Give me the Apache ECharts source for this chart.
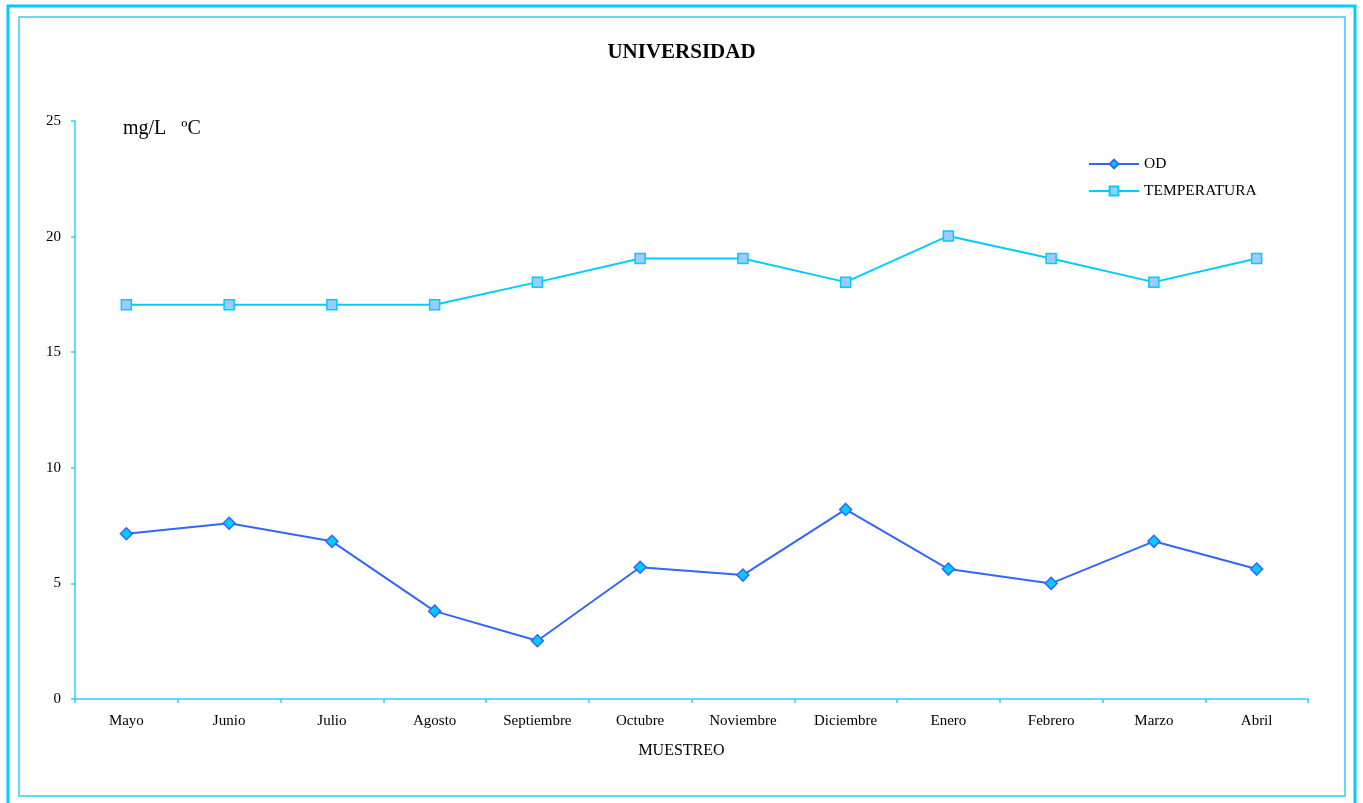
<!DOCTYPE html>
<html><head><meta charset="utf-8">
<script src="https://cdn.jsdelivr.net/npm/echarts@6/dist/echarts.min.js"></script>
<style>html,body{margin:0;padding:0;background:#fff}#c{width:1363px;height:803px}</style>
</head><body><div id="c"></div>
<script>
const categories = ["Mayo","Junio","Julio","Agosto","Septiembre","Octubre","Noviembre","Diciembre","Enero","Febrero","Marzo","Abril"];
const odValues = [7.15, 7.6, 6.82, 3.8, 2.52, 5.7, 5.36, 8.2, 5.62, 5.0, 6.82, 5.62];
const tempValues = [17.05, 17.05, 17.05, 17.05, 18.03, 19.05, 19.05, 18.03, 20.03, 19.05, 18.03, 19.05];
const yTicks = [0, 5, 10, 15, 20, 25];

const font = "'Liberation Serif', 'Times New Roman', serif";
const axisColor = '#33CCFF';
const chart = echarts.init(document.getElementById('c'));
chart.setOption({
  animation: false,
  backgroundColor: '#fff',
  grid: { left: 75, top: 121, right: 55, bottom: 104, containLabel: false },
  legend: {
    orient: 'vertical', left: 1083, top: 151, itemWidth: 50, itemHeight: 11, itemGap: 11,
    textStyle: { fontFamily: font, fontSize: 15.5, color: '#000' },
    data: ['OD', 'TEMPERATURA']
  },
  xAxis: {
    type: 'category', data: categories, boundaryGap: true,
    axisLine: { lineStyle: { color: axisColor, width: 1.5 } },
    axisTick: { show: true, length: 4, lineStyle: { color: axisColor, width: 1.5 } },
    axisLabel: { fontFamily: font, fontSize: 15, color: '#000', margin: 15 },
    splitLine: { show: false }
  },
  yAxis: {
    type: 'value', min: yTicks[0], max: yTicks[yTicks.length - 1], interval: 5,
    axisLine: { show: true, lineStyle: { color: axisColor, width: 1.5 } },
    axisTick: { show: true, length: 4, inside: false, lineStyle: { color: axisColor, width: 1.5 } },
    axisLabel: { fontFamily: font, fontSize: 15, color: '#000', margin: 14 },
    splitLine: { show: false }
  },
  graphic: [
    { type: 'rect', shape: { x: 8, y: 6, width: 1347, height: 810 }, style: { fill: 'none', stroke: '#00CCFF', lineWidth: 3 }, silent: true },
    { type: 'rect', shape: { x: 19, y: 17, width: 1326, height: 779 }, style: { fill: 'none', stroke: '#33CCFF', lineWidth: 1.5 }, silent: true },
    { type: 'text', left: 'center', top: 42, style: { text: 'UNIVERSIDAD', font: "bold 21px " + font, fill: '#000' } },
    { type: 'text', left: 123, top: 119, style: { text: 'mg/L   ºC', font: "20px " + font, fill: '#000' } },
    { type: 'text', left: 'center', top: 743, style: { text: 'MUESTREO', font: "16px " + font, fill: '#000' } }
  ],
  series: [
    {
      name: 'OD', type: 'line', data: odValues,
      symbol: 'diamond', symbolSize: 12,
      lineStyle: { color: '#3366FF', width: 2 },
      itemStyle: { color: '#00CCFF', borderColor: '#3366FF', borderWidth: 1.5 }
    },
    {
      name: 'TEMPERATURA', type: 'line', data: tempValues,
      symbol: 'rect', symbolSize: 10,
      lineStyle: { color: '#00CCFF', width: 2 },
      itemStyle: { color: '#99CCFF', borderColor: '#00CCFF', borderWidth: 1.5 }
    }
  ]
});
</script></body></html>
